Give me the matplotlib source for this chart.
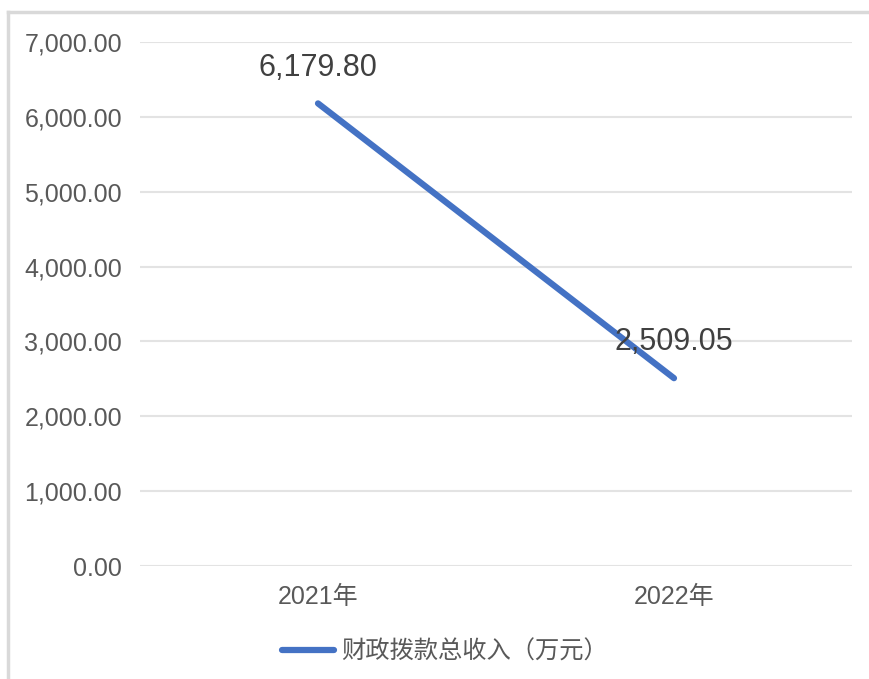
import matplotlib.pyplot as plt
from matplotlib.ticker import FuncFormatter
from matplotlib.lines import Line2D

plt.rcParams['font.family'] = ['Liberation Sans', 'Noto Sans CJK SC', 'DejaVu Sans']

years = ["2021年", "2022年"]
income = [6179.80, 2509.05]
series_name = "财政拨款总收入（万元）"
y_ticks = [0, 1000, 2000, 3000, 4000, 5000, 6000, 7000]

fig = plt.figure(figsize=(8.7, 6.79), dpi=100)
W, H = 870, 679

# outer frame (light gray, left and top edges)
fig.add_artist(Line2D([8 / W, 8 / W], [0, 1 - 12 / H], color="#d9d9d9", lw=2.5))
fig.add_artist(Line2D([8 / W, 1], [1 - 12 / H, 1 - 12 / H], color="#d9d9d9", lw=2.5))

ax = fig.add_axes([140 / W, 1 - 566 / H, 712 / W, (566 - 42) / H])

x = list(range(len(years)))
ax.plot(x, income, color="#4472c4", lw=4.5, solid_capstyle="round")

for xi, v in zip(x, income):
    ax.annotate(f"{v:,.2f}", (xi, v), xytext=(0, 15), textcoords="offset points",
                ha="center", va="bottom", fontsize=22, color="#404040")

ax.set_xlim(-0.5, len(years) - 0.5)
ax.set_ylim(0, 7000)
ax.set_yticks(y_ticks)
ax.yaxis.set_major_formatter(FuncFormatter(lambda v, p: f"{v:,.2f}"))
ax.set_xticks(x)
ax.set_xticklabels(years)

ax.grid(axis="y", color="#e3e3e3", lw=1.5)
ax.set_axisbelow(True)
for s in ax.spines.values():
    s.set_visible(False)
ax.tick_params(axis="both", length=0, labelsize=18, colors="#595959")
ax.tick_params(axis="y", pad=13)
ax.tick_params(axis="x", pad=14)

handle = Line2D([], [], color="#4472c4", lw=4.5, solid_capstyle="round")
fig.legend([handle], [series_name], loc="center", bbox_to_anchor=(445 / W, 1 - 652 / H),
           frameon=False, fontsize=17.5, labelcolor="#595959", handlelength=2.1,
           handletextpad=0.3)

fig.savefig("out.png", dpi=100)
